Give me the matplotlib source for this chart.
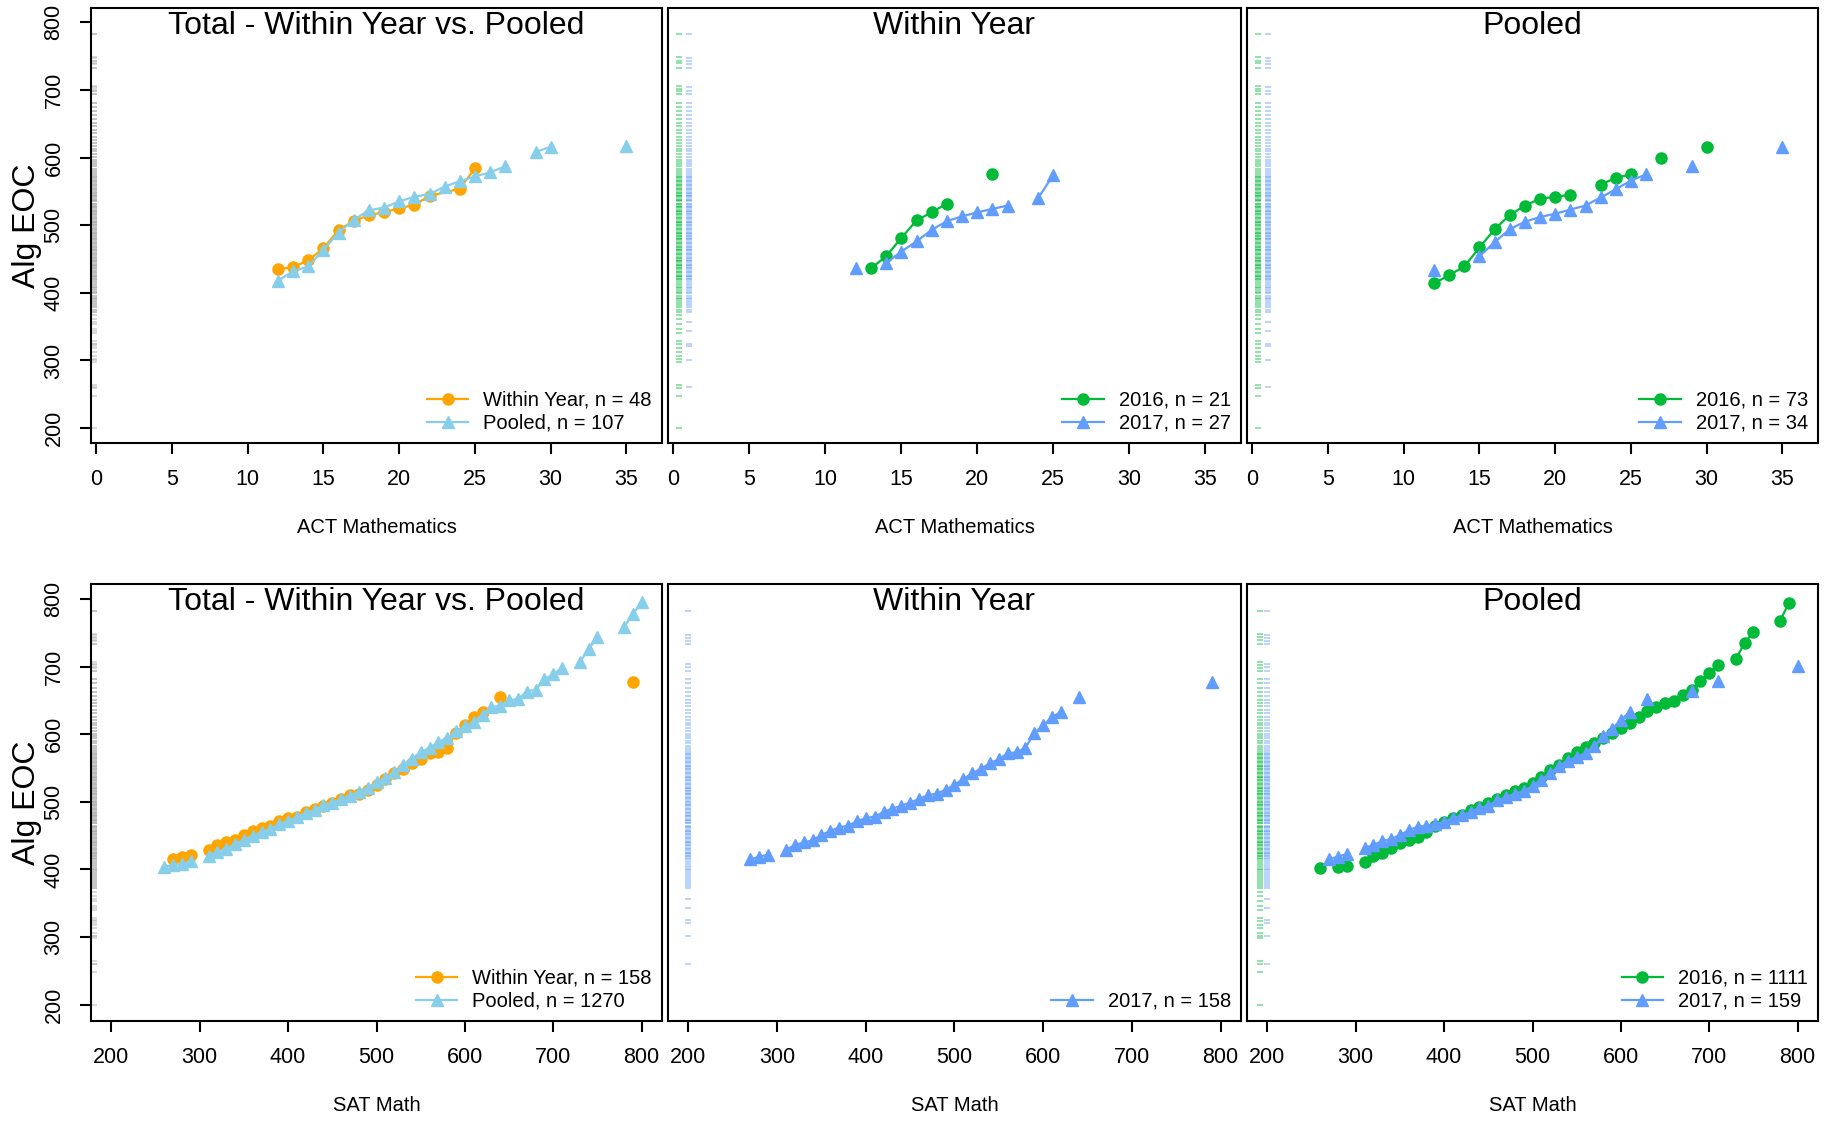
import numpy as np
import matplotlib.pyplot as plt
import matplotlib.transforms as mtransforms
import matplotlib

matplotlib.rc('font', family='Liberation Sans', size=14.5)

nan = np.nan

# R-ish colours: orange / skyblue for the totals, ggplot hues for the years
COLORS = {
    'within': '#FFA500',
    'pooled': '#87CEEB',
    '2016': '#00BA38',
    '2017': '#619CFF',
}

# ---- ACT Mathematics vs Alg EOC (top row) ----
ACT_WITHIN_X = [12, 13, 14, 15, 16, 17, 18, 19, 20, 21, 22, 24, 25]
ACT_WITHIN_Y = [435, 438, 448, 466, 493, 506, 515, 519, 525, 530, 543, 554, 584]
ACT_POOLED_X = [12, 13, 14, 15, 16, 17, 18, 19, 20, 21, 22, 23, 24, 25, 26, 27, 28, 29, 30, 31, 35]
ACT_POOLED_Y = [418, 432, 439, 464, 489, 508, 522, 526, 535, 542, 546, 557, 565, 572, 578, 587, nan, 608, 616, nan, 617]

ACT_WY_2016_X = [13, 14, 15, 16, 17, 18, 19, 21]
ACT_WY_2016_Y = [436, 454, 481, 507, 519, 532, nan, 575]
ACT_WY_2017_X = [12, 13, 14, 15, 16, 17, 18, 19, 20, 21, 22, 23, 24, 25]
ACT_WY_2017_Y = [437, nan, 444, 461, 476, 493, 506, 513, 519, 524, 529, nan, 540, 574]

ACT_PL_2016_X = [12, 13, 14, 15, 16, 17, 18, 19, 20, 21, 22, 23, 24, 25, 26, 27, 28, 30]
ACT_PL_2016_Y = [414, 426, 439, 467, 494, 515, 529, 539, 542, 545, nan, 560, 570, 575, nan, 600, nan, 616]
ACT_PL_2017_X = [12, 13, 15, 16, 17, 18, 19, 20, 21, 22, 23, 24, 25, 26, 27, 29, 30, 35]
ACT_PL_2017_Y = [433, nan, 454, 475, 494, 505, 512, 517, 523, 529, 541, 553, 566, 575, nan, 588, nan, 616]

# ---- SAT Math vs Alg EOC (bottom row) ----
SAT_WITHIN_X = [270, 280, 290, 300, 310, 320, 330, 340, 350, 360, 370, 380, 390, 400, 410,
                420, 430, 440, 450, 460, 470, 480, 490, 500, 510, 520, 530, 540, 550, 560,
                570, 580, 590, 600, 610, 620, 630, 640, 650, 790]
SAT_WITHIN_Y = [415, 419, 422, nan, 429, 436, 440, 443, 451, 457, 462, 465, 471, 476, 478,
                485, 490, 494, 499, 504, 510, 512, 518, 525, 534, 542, 549, 557, 563, 572,
                573, 580, 602, 613, 625, 633, nan, 655, nan, 677]

SAT_POOLED_X = [260, 270, 280, 290, 300, 310, 320, 330, 340, 350, 360, 370, 380, 390, 400,
                410, 420, 430, 440, 450, 460, 470, 480, 490, 500, 510, 520, 530, 540, 550,
                560, 570, 580, 590, 600, 610, 620, 630, 640, 650, 660, 670, 680, 690, 700,
                710, 720, 730, 740, 750, 760, 780, 790, 800]
SAT_POOLED_Y = [404, 407, 408, 412, nan, 420, 426, 431, 437, 444, 450, 455, 460, 467, 472,
                477, 484, 488, 495, 499, 504, 509, 515, 521, 529, 535, 544, 555, 564, 573,
                580, 588, 595, 604, 612, 618, 629, 640, 642, 650, 652, 663, 666, 681, 689,
                698, nan, 706, 726, 743, nan, 759, 777, 795]

SAT_PL_2016_X = [260, 270, 280, 290, 300, 310, 320, 330, 340, 350, 360, 370, 380, 390, 400,
                 410, 420, 430, 440, 450, 460, 470, 480, 490, 500, 510, 520, 530, 540, 550,
                 560, 570, 580, 590, 600, 610, 620, 630, 640, 650, 660, 670, 680, 690, 700,
                 710, 720, 730, 740, 750, 760, 780, 790]
SAT_PL_2016_Y = [402, nan, 403, 405, nan, 411, 420, 424, 432, 439, 444, 448, 456, 465, 470,
                 476, 480, 488, 493, 499, 504, 510, 516, 521, 528, 536, 547, 554, 565, 574,
                 581, 587, 594, 602, 609, 617, 626, 635, 640, 646, 649, 658, 666, 679, 690,
                 702, nan, 711, 735, 751, nan, 767, 794]

SAT_PL_2017_X = [270, 280, 290, 300, 310, 320, 330, 340, 350, 360, 370, 380, 390, 400, 410,
                 420, 430, 440, 450, 460, 470, 480, 490, 500, 510, 520, 530, 540, 550, 560,
                 570, 580, 590, 600, 610, 620, 630, 640, 680, 690, 710, 720, 800]
SAT_PL_2017_Y = [415, 419, 423, nan, 432, 436, 442, 445, 451, 458, 463, 465, 467, 470, 476,
                 480, 485, 491, 494, 502, 507, 512, 516, 523, 533, 542, 553, 561, 566, 572,
                 582, 597, 608, 621, 633, nan, 652, nan, 664, nan, 678, nan, 701]

RUG_CORE = [372, 375, 379, 382, 385, 388, 391, 393, 396, 399, 401, 404, 407, 409, 412, 415,
            417, 420, 423, 425, 428, 431, 433, 436, 439, 441, 444, 447, 449, 452, 455, 457,
            460, 463, 465, 468, 471, 473, 476, 479, 481, 484, 487, 489, 492, 495, 497, 500,
            503, 505, 508, 511, 513, 516, 519, 521, 524, 527, 529, 532, 535, 537, 540, 543,
            545, 548, 551, 553, 556, 559, 562, 565, 568, 571, 574, 577, 580, 583, 587, 590,
            594, 597, 601, 605, 609, 613, 617, 621, 626, 631, 636, 641, 646, 651, 657, 663,
            669, 675, 681]
RUG_PEAK = [420, 425, 431, 436, 441, 447, 452, 457, 463, 468, 473, 479, 484, 489, 495, 500,
            505, 511, 516, 521, 527, 532, 537, 543, 548, 553, 559, 565, 571]
RUG_2016_TAIL = [200, 248, 260, 264, 298, 302, 306, 313, 318, 324, 329, 340, 346, 354, 361,
                 367, 694, 698, 702, 706, 733, 739, 743, 748, 782]
RUG_2017_TAIL = [261, 301, 321, 325, 343, 357, 694, 699, 704, 733, 738, 742, 747, 782]

ACT_TICKS = [0, 5, 10, 15, 20, 25, 30, 35]
SAT_TICKS = [200, 300, 400, 500, 600, 700, 800]
EOC_TICKS = [200, 300, 400, 500, 600, 700, 800]

# figure geometry in pixels (1830 x 1121 at dpi 100)
FIG_W, FIG_H = 1830, 1121
COLS = [(91, 662), (668, 1241), (1247, 1818)]
ROWS = [(8, 443), (584, 1021)]


def add_panel(fig, row, col):
    left, right = COLS[col]
    top, bottom = ROWS[row]
    return fig.add_axes([left / FIG_W, 1 - bottom / FIG_H,
                         (right - left) / FIG_W, (bottom - top) / FIG_H])


def draw_rug(ax, values, xpos, color, alpha, axes_x=False):
    trans = ax.transData
    if axes_x:
        trans = mtransforms.blended_transform_factory(ax.transAxes, ax.transData)
    ax.plot(np.full(len(values), xpos), values, ls='none', marker='_',
            ms=4.8, mew=1.2, color=color, alpha=alpha, transform=trans, zorder=1)


def draw_series(ax, x, y, color, marker, label):
    ax.plot(x, y, color=color, marker=marker, lw=1.6,
            ms=8 if marker == 'o' else 9, label=label, zorder=3)


def style_panel(ax, title, xlabel, xticks, xlim, ylim, show_y):
    ax.set_xlim(*xlim)
    ax.set_ylim(*ylim)
    ax.set_xticks(xticks)
    for sp in ax.spines.values():
        sp.set_linewidth(1.5)
    ax.tick_params(axis='x', direction='out', length=8, width=1.5, pad=11, labelsize=15.5)
    if show_y:
        ax.set_yticks(EOC_TICKS)
        ax.tick_params(axis='y', direction='out', length=8, width=1.5, pad=11,
                       labelsize=15.5, labelrotation=90)
        for lbl in ax.get_yticklabels():
            lbl.set_va('center')
        ax.text(-0.112, 0.5, 'Alg EOC', rotation=90, ha='center', va='center',
                fontsize=23, transform=ax.transAxes)
    else:
        ax.set_yticks([])
    ax.set_xlabel(xlabel, fontsize=14.5)
    ax.xaxis.set_label_coords(0.5, -0.172)
    ax.text(0.5, 0.94, title, ha='center', va='baseline', fontsize=23,
            transform=ax.transAxes)
    ax.legend(loc='lower right', frameon=False, fontsize=14.5, handlelength=2.05,
              handletextpad=0.75, labelspacing=0.2, borderpad=0.2, borderaxespad=0.3)


def main():
    fig = plt.figure(figsize=(FIG_W / 100, FIG_H / 100), dpi=100)

    rug16 = RUG_CORE + RUG_2016_TAIL
    rug17 = RUG_CORE + RUG_2017_TAIL
    act_lim, sat_lim = (-0.35, 37.35), (177, 823)
    top_ylim, bot_ylim = (178, 821), (176, 822)

    # top row: ACT
    ax = add_panel(fig, 0, 0)
    for vals in (rug16 + rug17, RUG_PEAK):
        draw_rug(ax, vals, 0.006, '#A8A8A8', 0.5, axes_x=True)
    draw_series(ax, ACT_WITHIN_X, ACT_WITHIN_Y, COLORS['within'], 'o', 'Within Year, n = 48')
    draw_series(ax, ACT_POOLED_X, ACT_POOLED_Y, COLORS['pooled'], '^', 'Pooled, n = 107')
    style_panel(ax, 'Total - Within Year vs. Pooled', 'ACT Mathematics', ACT_TICKS,
                act_lim, top_ylim, True)

    for col, title, s16, s17, labs in [
        (1, 'Within Year', (ACT_WY_2016_X, ACT_WY_2016_Y), (ACT_WY_2017_X, ACT_WY_2017_Y),
         ('2016, n = 21', '2017, n = 27')),
        (2, 'Pooled', (ACT_PL_2016_X, ACT_PL_2016_Y), (ACT_PL_2017_X, ACT_PL_2017_Y),
         ('2016, n = 73', '2017, n = 34')),
    ]:
        ax = add_panel(fig, 0, col)
        for vals in (rug16, RUG_PEAK):
            draw_rug(ax, vals, 0.4, COLORS['2016'], 0.5)
        for vals in (rug17, RUG_PEAK):
            draw_rug(ax, vals, 1.05, COLORS['2017'], 0.5)
        draw_series(ax, *s16, COLORS['2016'], 'o', labs[0])
        draw_series(ax, *s17, COLORS['2017'], '^', labs[1])
        style_panel(ax, title, 'ACT Mathematics', ACT_TICKS, act_lim, top_ylim, False)

    # bottom row: SAT
    ax = add_panel(fig, 1, 0)
    for vals in (rug16 + rug17, RUG_PEAK):
        draw_rug(ax, vals, 0.006, '#A8A8A8', 0.5, axes_x=True)
    draw_series(ax, SAT_WITHIN_X, SAT_WITHIN_Y, COLORS['within'], 'o', 'Within Year, n = 158')
    draw_series(ax, SAT_POOLED_X, SAT_POOLED_Y, COLORS['pooled'], '^', 'Pooled, n = 1270')
    style_panel(ax, 'Total - Within Year vs. Pooled', 'SAT Math', SAT_TICKS,
                sat_lim, bot_ylim, True)

    ax = add_panel(fig, 1, 1)
    for vals in (rug17, RUG_PEAK):
        draw_rug(ax, vals, 200, COLORS['2017'], 0.5)
    draw_series(ax, SAT_WITHIN_X, SAT_WITHIN_Y, COLORS['2017'], '^', '2017, n = 158')
    style_panel(ax, 'Within Year', 'SAT Math', SAT_TICKS, sat_lim, bot_ylim, False)

    ax = add_panel(fig, 1, 2)
    for vals in (rug16, RUG_PEAK):
        draw_rug(ax, vals, 192, COLORS['2016'], 0.5)
    for vals in (rug17, RUG_PEAK):
        draw_rug(ax, vals, 200, COLORS['2017'], 0.5)
    draw_series(ax, SAT_PL_2016_X, SAT_PL_2016_Y, COLORS['2016'], 'o', '2016, n = 1111')
    draw_series(ax, SAT_PL_2017_X, SAT_PL_2017_Y, COLORS['2017'], '^', '2017, n = 159')
    style_panel(ax, 'Pooled', 'SAT Math', SAT_TICKS, sat_lim, bot_ylim, False)

    fig.savefig('out.png', dpi=100)


if __name__ == '__main__':
    main()
